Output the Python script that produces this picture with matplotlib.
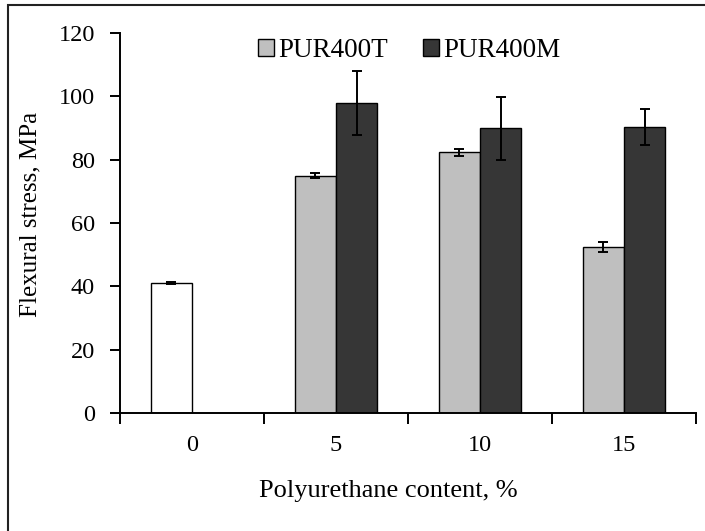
import matplotlib
matplotlib.use("Agg")
import matplotlib.pyplot as plt
from matplotlib.patches import Rectangle
import numpy as np

# Data
categories = ["0", "5", "10", "15"]
control_value = [41.0]
control_err = [0.3]
pur400t_values = [75.0, 82.3, 52.5]
pur400t_err = [0.8, 1.0, 1.5]
pur400m_values = [97.9, 89.9, 90.2]
pur400m_err = [10.0, 9.9, 5.7]

plt.rcParams["font.family"] = ["Liberation Serif", "DejaVu Serif"]

fig = plt.figure(figsize=(7.05, 5.31), dpi=100)
ax = fig.add_axes([120 / 705, 1 - 413 / 531, (696 - 120) / 705, (413 - 33) / 531])

x = np.arange(len(categories))
w = 0.285
err_kw = dict(ecolor="black", elinewidth=1.4, capsize=3.5, capthick=1.4)

ax.bar(x[:1] - w / 2, control_value, w, yerr=control_err, color="white",
       edgecolor="black", linewidth=1.0, error_kw=err_kw, zorder=2)
ax.bar(x[1:] - w / 2, pur400t_values, w, yerr=pur400t_err, color="#bfbfbf",
       edgecolor="black", linewidth=1.0, error_kw=err_kw, label="PUR400T", zorder=2)
ax.bar(x[1:] + w / 2, pur400m_values, w, yerr=pur400m_err, color="#363636",
       edgecolor="black", linewidth=1.0, error_kw=err_kw, label="PUR400M", zorder=2)

ax.set_xlim(-0.5, len(categories) - 0.5)
ax.set_ylim(0, 120)
ax.set_yticks(np.arange(0, 121, 20))

# category boundaries as major ticks, labels on minor ticks at centres
ax.set_xticks(np.arange(-0.5, len(categories), 1.0))
ax.set_xticklabels([])
ax.set_xticks(x, minor=True)
ax.set_xticklabels(categories, minor=True)
ax.tick_params(axis="x", which="major", direction="out", length=8, width=1.4)
ax.tick_params(axis="x", which="minor", length=0, pad=16, labelsize=17.5)
ax.tick_params(axis="y", direction="out", length=7, width=1.4, pad=11, labelsize=17.5)

for side in ["top", "right"]:
    ax.spines[side].set_visible(False)
for side in ["left", "bottom"]:
    ax.spines[side].set_linewidth(1.4)

ax.set_xlabel("Polyurethane content, %", fontsize=19)
ax.xaxis.set_label_coords((388 - 120) / (696 - 120), -(480 - 413) / (413 - 33))
ax.set_ylabel("Flexural stress, MPa", fontsize=18)
ax.yaxis.set_label_coords(-(120 - 41) / (696 - 120), (413 - 214) / (413 - 33))

ax.legend(loc="upper left", bbox_to_anchor=(0.22, 1.015), ncol=2, frameon=False,
          fontsize=19.5, handlelength=0.6, handleheight=0.6, handletextpad=0.15,
          columnspacing=1.3, borderaxespad=0)

# outer chart border
fig.patches.append(Rectangle((8 / 705, -0.01), 1.0, 1 - 5 / 531 + 0.01,
                             transform=fig.transFigure, fill=False,
                             edgecolor="#222222", linewidth=1.5))

fig.savefig("out.png", dpi=100)
